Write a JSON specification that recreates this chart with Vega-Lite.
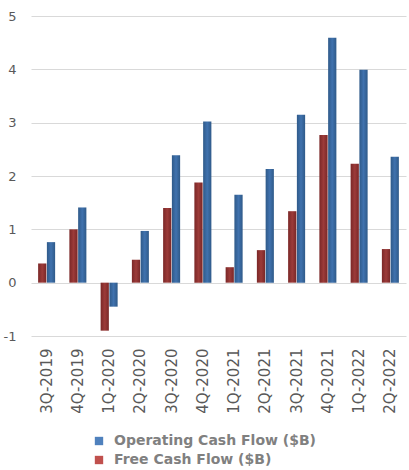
{
  "$schema": "https://vega.github.io/schema/vega-lite/v6.json",
  "autosize": "none",
  "width": 375,
  "height": 320,
  "padding": {"left": 31, "top": 16, "right": 3, "bottom": 134},
  "background": "white",
  "config": {
    "view": {"stroke": null},
    "font": "DejaVu Sans"
  },
  "data": {
    "values": [
      {"Quarter": "3Q-2019", "Series": "Free Cash Flow ($B)", "Value": 0.36},
      {"Quarter": "3Q-2019", "Series": "Operating Cash Flow ($B)", "Value": 0.76},
      {"Quarter": "4Q-2019", "Series": "Free Cash Flow ($B)", "Value": 1.0},
      {"Quarter": "4Q-2019", "Series": "Operating Cash Flow ($B)", "Value": 1.41},
      {"Quarter": "1Q-2020", "Series": "Free Cash Flow ($B)", "Value": -0.9},
      {"Quarter": "1Q-2020", "Series": "Operating Cash Flow ($B)", "Value": -0.45},
      {"Quarter": "2Q-2020", "Series": "Free Cash Flow ($B)", "Value": 0.43},
      {"Quarter": "2Q-2020", "Series": "Operating Cash Flow ($B)", "Value": 0.97},
      {"Quarter": "3Q-2020", "Series": "Free Cash Flow ($B)", "Value": 1.4},
      {"Quarter": "3Q-2020", "Series": "Operating Cash Flow ($B)", "Value": 2.39},
      {"Quarter": "4Q-2020", "Series": "Free Cash Flow ($B)", "Value": 1.88},
      {"Quarter": "4Q-2020", "Series": "Operating Cash Flow ($B)", "Value": 3.02},
      {"Quarter": "1Q-2021", "Series": "Free Cash Flow ($B)", "Value": 0.29},
      {"Quarter": "1Q-2021", "Series": "Operating Cash Flow ($B)", "Value": 1.65},
      {"Quarter": "2Q-2021", "Series": "Free Cash Flow ($B)", "Value": 0.61},
      {"Quarter": "2Q-2021", "Series": "Operating Cash Flow ($B)", "Value": 2.13},
      {"Quarter": "3Q-2021", "Series": "Free Cash Flow ($B)", "Value": 1.34},
      {"Quarter": "3Q-2021", "Series": "Operating Cash Flow ($B)", "Value": 3.15},
      {"Quarter": "4Q-2021", "Series": "Free Cash Flow ($B)", "Value": 2.77},
      {"Quarter": "4Q-2021", "Series": "Operating Cash Flow ($B)", "Value": 4.59},
      {"Quarter": "1Q-2022", "Series": "Free Cash Flow ($B)", "Value": 2.23},
      {"Quarter": "1Q-2022", "Series": "Operating Cash Flow ($B)", "Value": 3.99},
      {"Quarter": "2Q-2022", "Series": "Free Cash Flow ($B)", "Value": 0.63},
      {"Quarter": "2Q-2022", "Series": "Operating Cash Flow ($B)", "Value": 2.36}
    ]
  },
  "encoding": {
    "x": {
      "field": "Quarter",
      "type": "nominal",
      "sort": null,
      "title": null,
      "scale": {"paddingInner": 0.456, "paddingOuter": 0.228},
      "axis": {
        "labelAngle": -90,
        "labelAlign": "right",
        "labelBaseline": "middle",
        "labelPadding": 12,
        "labelFontSize": 15,
        "labelColor": "#595959",
        "ticks": false,
        "domain": false
      }
    },
    "xOffset": {
      "field": "Series",
      "type": "nominal",
      "sort": ["Free Cash Flow ($B)", "Operating Cash Flow ($B)"],
      "scale": {"paddingInner": 0.06}
    },
    "y": {
      "field": "Value",
      "type": "quantitative",
      "title": null,
      "scale": {"domain": [-1, 5], "nice": false},
      "axis": {
        "values": [-1, 0, 1, 2, 3, 4, 5],
        "labelExpr": "toString(datum.value)",
        "labelFontSize": 13,
        "labelColor": "#595959",
        "labelPadding": 15,
        "ticks": false,
        "domain": false,
        "gridColor": "#d9d9d9",
        "gridWidth": 1.2
      }
    }
  },
  "layer": [
    {
      "transform": [{"filter": "datum.Series == 'Free Cash Flow ($B)'"}],
      "mark": {
        "type": "bar",
        "fill": {
          "gradient": "linear",
          "x1": 0, "y1": 0, "x2": 1, "y2": 0,
          "stops": [
            {"offset": 0, "color": "#7a2727"},
            {"offset": 0.5, "color": "#9c3b39"},
            {"offset": 1, "color": "#7a2727"}
          ]
        }
      }
    },
    {
      "transform": [{"filter": "datum.Series == 'Operating Cash Flow ($B)'"}],
      "mark": {
        "type": "bar",
        "fill": {
          "gradient": "linear",
          "x1": 0, "y1": 0, "x2": 1, "y2": 0,
          "stops": [
            {"offset": 0, "color": "#2f5a89"},
            {"offset": 0.5, "color": "#4072ae"},
            {"offset": 1, "color": "#2f5a89"}
          ]
        }
      }
    },
    {
      "mark": {"type": "point", "opacity": 0, "filled": true},
      "encoding": {
        "color": {
          "field": "Series",
          "type": "nominal",
          "sort": ["Operating Cash Flow ($B)", "Free Cash Flow ($B)"],
          "scale": {
            "domain": ["Operating Cash Flow ($B)", "Free Cash Flow ($B)"],
            "range": ["#4f81bd", "#c0504d"]
          },
          "legend": {
            "title": null,
            "orient": "none",
            "legendX": 61,
            "legendY": 418,
            "direction": "vertical",
            "symbolType": "square",
            "symbolSize": 70,
            "symbolOpacity": 1,
            "symbolStrokeWidth": 0,
            "labelFontSize": 14,
            "labelFontWeight": "bold",
            "labelColor": "#808080",
            "labelOffset": 8,
            "rowPadding": 5,
            "labelLimit": 400
          }
        }
      }
    }
  ]
}
